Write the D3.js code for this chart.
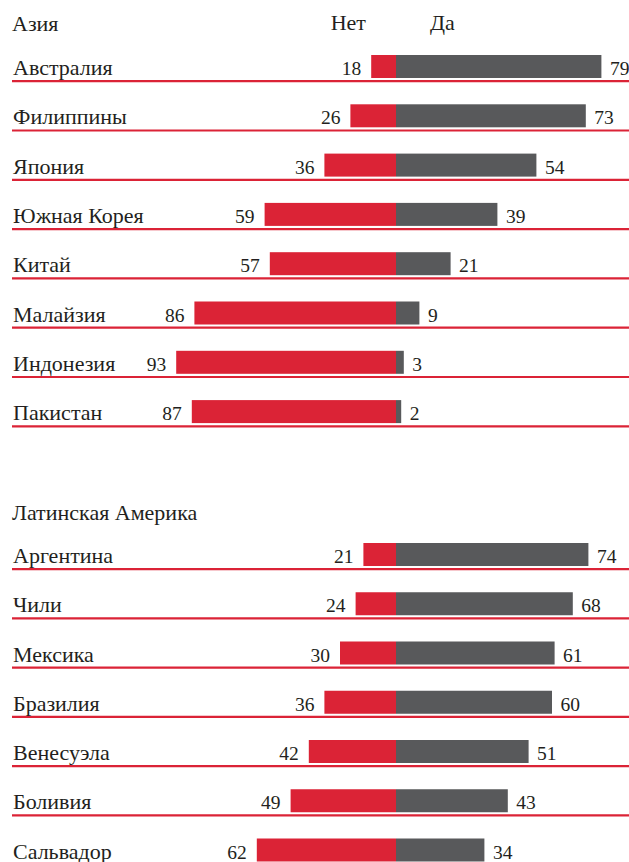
<!DOCTYPE html>
<html>
<head>
<meta charset="utf-8">
<script src="https://cdn.jsdelivr.net/npm/d3@7"></script>
<style>
  html, body { margin: 0; padding: 0; background: #ffffff; }
  svg { display: block; }
</style>
</head>
<body>
<script>
// ---- Data ----
const asiaTitle = "Азия";
const asiaCountries = ["Австралия", "Филиппины", "Япония", "Южная Корея", "Китай", "Малайзия", "Индонезия", "Пакистан"];
const asiaNo  = [18, 26, 36, 59, 57, 86, 93, 87];
const asiaYes = [79, 73, 54, 39, 21, 9, 3, 2];

const latamTitle = "Латинская Америка";
const latamCountries = ["Аргентина", "Чили", "Мексика", "Бразилия", "Венесуэла", "Боливия", "Сальвадор"];
const latamNo  = [21, 24, 30, 36, 42, 49, 62];
const latamYes = [74, 68, 61, 60, 51, 43, 34];

const headerNo = "Нет";
const headerYes = "Да";

// ---- Layout ----
const W = 629, H = 862;
const center = 396;
const red = "#db2336";
const grey = "#58595b";
const labelSize = 22;
const numSize = 19.5;
const fontFamily = "Liberation Serif";

const svg = d3.select("body").append("svg").attr("width", W).attr("height", H)
  .attr("font-family", fontFamily).attr("fill", "#231f20");

const xYes = d3.scaleLinear().domain([0, 100]).range([center, center + 260]);
const xNo  = d3.scaleLinear().domain([0, 100]).range([center + 22, center + 22 - 260]);

function txt(sel, size) {
  return sel.attr("font-family", fontFamily).attr("font-size", size).attr("fill", "#231f20");
}

function section(title, countries, no, yes, titleBaseline, firstBarTop, step, withHeader) {
  const g = svg.append("g");
  txt(g.append("text"), labelSize).attr("x", 12).attr("y", titleBaseline).text(title);
  if (withHeader) {
    txt(g.append("text"), labelSize).attr("x", 366).attr("y", titleBaseline - 1)
      .attr("text-anchor", "end").text(headerNo);
    txt(g.append("text"), labelSize).attr("x", 430).attr("y", titleBaseline - 1).text(headerYes);
  }
  const y = d3.scaleBand().domain(countries)
    .range([firstBarTop, firstBarTop + step * countries.length]);
  const barH = 23;
  const rows = g.selectAll("g.row").data(countries.map((c, i) => ({c, no: no[i], yes: yes[i]})))
    .join("g").attr("class", "row")
    .attr("transform", d => `translate(0,${y(d.c)})`);

  rows.append("line")
    .attr("x1", 12).attr("x2", W)
    .attr("y1", barH + 3.2).attr("y2", barH + 3.2)
    .attr("stroke", red).attr("stroke-width", 2.2);

  rows.append("rect")
    .attr("x", d => xNo(d.no)).attr("y", 0)
    .attr("width", d => center - xNo(d.no)).attr("height", barH)
    .attr("fill", red);
  rows.append("rect")
    .attr("x", center).attr("y", 0)
    .attr("width", d => xYes(d.yes) - center).attr("height", barH)
    .attr("fill", grey);

  txt(rows.append("text"), labelSize).attr("x", 13).attr("y", barH - 3).text(d => d.c);
  txt(rows.append("text"), numSize).attr("x", d => xNo(d.no) - 10).attr("y", barH - 3)
    .attr("text-anchor", "end").text(d => d.no);
  txt(rows.append("text"), numSize).attr("x", d => xYes(d.yes) + 8.5).attr("y", barH - 3).text(d => d.yes);
}

section(asiaTitle, asiaCountries, asiaNo, asiaYes, 31, 55, 49.3, true);
section(latamTitle, latamCountries, latamNo, latamYes, 520, 543, 49.25, false);
</script>
</body>
</html>
